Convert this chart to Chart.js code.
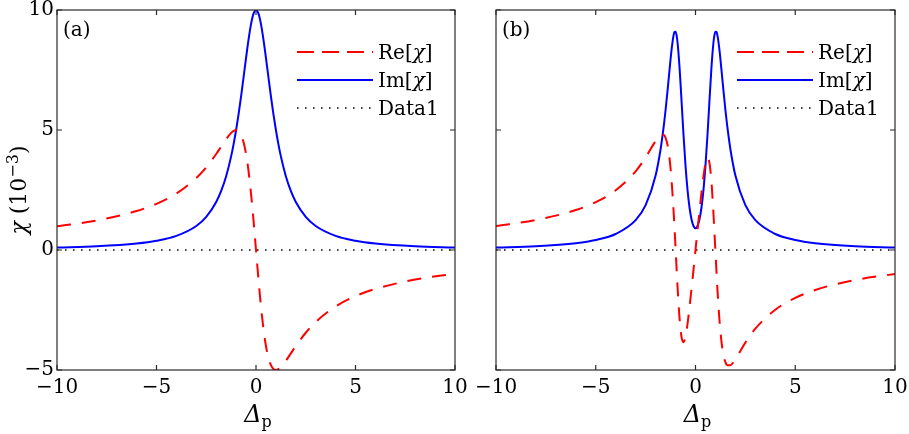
<!DOCTYPE html>
<html>
<head>
<meta charset="utf-8">
<script src="https://cdn.jsdelivr.net/npm/chart.js@4.4.0/dist/chart.umd.min.js"></script>
<style>
  html, body { margin: 0; padding: 0; background: #fff; }
  #wrap { position: relative; width: 909px; height: 434px; }
  .pane { position: absolute; top: 0; height: 434px; }
  #pa { left: 0; width: 470px; }
  #pb { left: 470px; width: 439px; }
</style>
</head>
<body>
<div id="wrap">
  <div class="pane" id="pa"><canvas id="ca"></canvas></div>
  <div class="pane" id="pb"><canvas id="cb"></canvas></div>
</div>
<script>
// probe detuning, panel (a)
var deltaA = [-10, -8, -6, -5, -4, -3, -2.5, -2, -1.75, -1.5, -1.25, -1.125, -1, -0.875, -0.75, -0.625, -0.5, -0.375, -0.25, -0.125, 0,
              0.125, 0.25, 0.375, 0.5, 0.625, 0.75, 0.875, 1, 1.125, 1.25, 1.5, 1.75, 2, 2.5, 3, 4, 5, 6, 8, 10];
var reA = [0.990, 1.231, 1.622, 1.923, 2.353, 3.000, 3.448, 4.000, 4.308, 4.615, 4.878, 4.966, 5.000, 4.956, 4.800, 4.494, 4.000, 3.288, 2.353, 1.231, 0,
           -1.231, -2.353, -3.288, -4.000, -4.494, -4.800, -4.956, -5.000, -4.966, -4.878, -4.615, -4.308, -4.000, -3.448, -3.000, -2.353, -1.923, -1.622, -1.231, -0.990];
var imA = [0.099, 0.154, 0.270, 0.385, 0.588, 1.000, 1.379, 2.000, 2.462, 3.077, 3.902, 4.414, 5.000, 5.664, 6.400, 7.191, 8.000, 8.767, 9.412, 9.846, 10,
           9.846, 9.412, 8.767, 8.000, 7.191, 6.400, 5.664, 5.000, 4.414, 3.902, 3.077, 2.462, 2.000, 1.379, 1.000, 0.588, 0.385, 0.270, 0.154, 0.099];

// panel (b)
var deltaB = [-10, -8, -6, -5, -4, -3, -2.5, -2, -1.75, -1.6, -1.5, -1.4, -1.3, -1.2, -1.1, -1.05, -1, -0.95, -0.9, -0.8, -0.7, -0.6, -0.5, -0.4, -0.3, -0.2, -0.1, 0,
              0.1, 0.2, 0.3, 0.4, 0.5, 0.6, 0.7, 0.8, 0.9, 0.95, 1, 1.05, 1.1, 1.2, 1.3, 1.4, 1.5, 1.6, 1.75, 2, 2.5, 3, 4, 5, 6, 8, 10];
var reB = [1.000, 1.250, 1.665, 1.996, 2.487, 3.278, 3.858, 4.543, 4.799, 4.800, 4.672, 4.365, 3.803, 2.906, 1.639, 0.885, 0.082, -0.735, -1.522, -2.840, -3.627, -3.845, -3.610, -3.082, -2.391, -1.621, -0.817, 0,
           0.817, 1.621, 2.391, 3.082, 3.610, 3.845, 3.627, 2.840, 1.522, 0.735, -0.082, -0.885, -1.639, -2.906, -3.803, -4.365, -4.672, -4.800, -4.799, -4.543, -3.858, -3.278, -2.487, -1.996, -1.665, -1.250, -1.000];
var imB = [0.101, 0.159, 0.286, 0.418, 0.667, 1.243, 1.866, 3.102, 4.198, 5.106, 5.834, 6.653, 7.522, 8.342, 8.942, 9.089, 9.098, 8.952, 8.645, 7.607, 6.218, 4.780, 3.512, 2.507, 1.771, 1.280, 1.000, 0.909,
           1.000, 1.280, 1.771, 2.507, 3.512, 4.780, 6.218, 7.607, 8.645, 8.952, 9.098, 9.089, 8.942, 8.342, 7.522, 6.653, 5.834, 5.106, 4.198, 3.102, 1.866, 1.243, 0.667, 0.418, 0.286, 0.159, 0.101];

// the dotted reference line
var deltaLine = [-10, 10];
var zeroLine = [0, 0];

var seriesNames = ['Re[χ]', 'Im[χ]', 'Data1'];
var xTicks = [-10, -5, 0, 5, 10];
var yTicks = [-5, 0, 5, 10];

var SERIF = '"DejaVu Serif", serif';

function pts(xs, ys) {
    return xs.map(function (x, i) { return { x: x, y: ys[i] }; });
}

// draws a list of [text, font, dy] pieces one after another
function drawRich(ctx, parts, x, y) {
    parts.forEach(function (p) {
        ctx.font = p[1];
        ctx.fillText(p[0], x, y + (p[2] || 0));
        x += ctx.measureText(p[0]).width;
    });
}
function richWidth(ctx, parts) {
    var w = 0;
    parts.forEach(function (p) { ctx.font = p[1]; w += ctx.measureText(p[0]).width; });
    return w;
}

var framePlugin = {
    id: 'frame',
    afterDraw: function (chart) {
        var o = chart.options.plugins.frame;
        var ctx = chart.ctx;
        var a = chart.chartArea;
        var xs = chart.scales.x, ys = chart.scales.y;
        ctx.save();

        // box + inward ticks
        ctx.strokeStyle = '#2b2b2b';
        ctx.lineWidth = 1.2;
        ctx.strokeRect(a.left, a.top, a.right - a.left, a.bottom - a.top);
        ctx.beginPath();
        xTicks.forEach(function (v) {
            var px = xs.getPixelForValue(v);
            ctx.moveTo(px, a.bottom); ctx.lineTo(px, a.bottom - 5);
            ctx.moveTo(px, a.top); ctx.lineTo(px, a.top + 5);
        });
        yTicks.forEach(function (v) {
            var py = ys.getPixelForValue(v);
            ctx.moveTo(a.left, py); ctx.lineTo(a.left + 5, py);
            ctx.moveTo(a.right, py); ctx.lineTo(a.right - 5, py);
        });
        ctx.stroke();

        ctx.fillStyle = '#000';
        ctx.textBaseline = 'alphabetic';
        ctx.textAlign = 'left';

        // panel tag
        ctx.font = '20px ' + SERIF;
        ctx.fillText(o.tag, a.left + 6, a.top + 26);

        // legend
        var rows = [a.top + 42, a.top + 70, a.top + 98];
        var labels = [
            [['Re[', '20px ' + SERIF], ['χ', 'italic 20px ' + SERIF], [']', '20px ' + SERIF]],
            [['Im[', '20px ' + SERIF], ['χ', 'italic 20px ' + SERIF], [']', '20px ' + SERIF]],
            [['Data1', '20px ' + SERIF]]
        ];
        chart.data.datasets.forEach(function (ds, i) {
            var y = rows[i];
            ctx.save();
            ctx.strokeStyle = ds.borderColor;
            ctx.lineWidth = ds.borderWidth;
            ctx.setLineDash(i === 0 ? [17, 8] : (ds.borderDash || []));
            ctx.beginPath();
            ctx.moveTo(a.right - 158, y);
            ctx.lineTo(a.right - 82, y);
            ctx.stroke();
            ctx.restore();
            drawRich(ctx, labels[i], a.right - 77, y + 7);
        });

        // x title: Delta_p
        var xt = [['Δ', 'italic 24px ' + SERIF], ['p', '16px ' + SERIF, 5]];
        var cx = (a.left + a.right) / 2 + 2;
        drawRich(ctx, xt, cx - richWidth(ctx, xt) / 2, 422);

        // y title only on the left panel
        if (o.yTitle) {
            var yt = [['χ', 'italic 22px ' + SERIF], [' (10', '22px ' + SERIF], ['−3', '16px ' + SERIF, -8], [')', '22px ' + SERIF]];
            var w = richWidth(ctx, yt);
            ctx.translate(26, (a.top + a.bottom) / 2);
            ctx.rotate(-Math.PI / 2);
            drawRich(ctx, yt, -w / 2, 0);
        }
        ctx.restore();
    }
};

function makePanel(id, xs, re, im, tag, yLabels, yWidth, padRight) {
    return new Chart(document.getElementById(id), {
        type: 'line',
        data: {
            datasets: [
                {
                    label: seriesNames[0], data: pts(xs, re),
                    borderColor: '#ff0000', borderWidth: 2, borderDash: [14, 11],
                    pointRadius: 0, cubicInterpolationMode: 'monotone'
                },
                {
                    label: seriesNames[1], data: pts(xs, im),
                    borderColor: '#0000ff', borderWidth: 2,
                    pointRadius: 0, cubicInterpolationMode: 'monotone'
                },
                {
                    label: seriesNames[2], data: pts(deltaLine, zeroLine),
                    borderColor: '#000000', borderWidth: 1.5, borderDash: [1.5, 6.5],
                    pointRadius: 0
                }
            ]
        },
        options: {
            responsive: true,
            maintainAspectRatio: false,
            animation: false,
            layout: { padding: { left: 0, right: padRight, top: 10, bottom: 0 } },
            plugins: {
                legend: { display: false },
                tooltip: { enabled: false },
                frame: { tag: tag, yTitle: yLabels }
            },
            scales: {
                x: {
                    type: 'linear', min: -10, max: 10,
                    grid: { display: false, drawTicks: false },
                    border: { display: false },
                    ticks: {
                        stepSize: 5, color: '#000', padding: 6,
                        font: { family: SERIF, size: 20 },
                        callback: function (v) { return String(v).replace('-', '−'); }
                    },
                    afterFit: function (s) {
                        s.height = 64;
                        s.paddingLeft = 0;
                        s.paddingRight = 0;
                    }
                },
                y: {
                    min: -5, max: 10,
                    grid: { display: false, drawTicks: false },
                    border: { display: false },
                    ticks: {
                        display: yLabels, stepSize: 5, color: '#000', padding: 3,
                        font: { family: SERIF, size: 20 },
                        callback: function (v) { return String(v).replace('-', '−'); }
                    },
                    afterFit: function (s) {
                        s.width = yWidth;
                        s.paddingTop = 0;
                        s.paddingBottom = 0;
                    }
                }
            }
        },
        plugins: [framePlugin]
    });
}

makePanel('ca', deltaA, reA, imA, '(a)', true, 57, 15);
makePanel('cb', deltaB, reB, imB, '(b)', false, 26, 14);
</script>
</body>
</html>
